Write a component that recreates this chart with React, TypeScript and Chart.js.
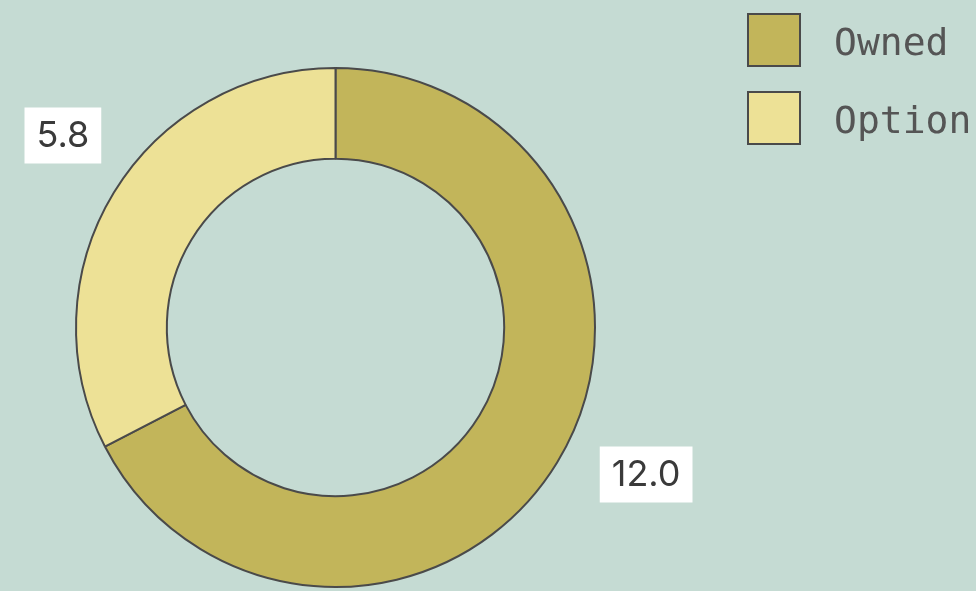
import React, { useEffect, useRef } from "react";
import { Chart, registerables } from "chart.js";

Chart.register(...registerables);

const categories = ["Owned", "Option"];
const legendLabels = ["Owned", "Option"];
const values = [12.0, 5.8];
const valueLabels = ["12.0", "5.8"];
const colors = ["#c2b55a", "#ede196"];

const BG = "#c5dbd3";
const BORDER = "#4a4a4a";

const labelPlugin = {
  id: "sliceLabels",
  afterDatasetsDraw(chart: any, _args: any, opts: any) {
    const ctx = chart.ctx;
    const meta = chart.getDatasetMeta(0);
    ctx.save();
    ctx.font = "36px Inter, 'Noto Sans', sans-serif";
    meta.data.forEach((arc: any, i: number) => {
      const { x, y, startAngle, endAngle, outerRadius } = arc.getProps(
        ["x", "y", "startAngle", "endAngle", "outerRadius"],
        true
      );
      const mid = (startAngle + endAngle) / 2;
      const ax = x + Math.cos(mid) * outerRadius;
      const ay = y + Math.sin(mid) * outerRadius;
      const n = opts.nudge[i];
      const cx = ax + n[0];
      const cy = ay + n[1];
      const text = valueLabels[i];
      const tw = ctx.measureText(text).width;
      const w = tw + 24;
      const h = 56;
      ctx.fillStyle = "#ffffff";
      ctx.fillRect(cx - w / 2, cy - h / 2, w, h);
      ctx.fillStyle = "#3a3a3a";
      ctx.textAlign = "center";
      ctx.textBaseline = "middle";
      ctx.fillText(text, cx, cy + 1);
    });
    ctx.restore();
  },
};

const legendPlugin = {
  id: "sideLegend",
  afterDraw(chart: any, _args: any, opts: any) {
    const ctx = chart.ctx;
    const left = chart.chartArea.right + opts.gap;
    ctx.save();
    ctx.font = "38px 'DejaVu Sans Mono', monospace";
    ctx.textBaseline = "alphabetic";
    ctx.textAlign = "left";
    legendLabels.forEach((label, i) => {
      const top = opts.top + i * opts.rowHeight;
      ctx.fillStyle = colors[i];
      ctx.fillRect(left + 1, top + 1, 52, 52);
      ctx.lineWidth = 2;
      ctx.strokeStyle = BORDER;
      ctx.strokeRect(left + 1, top + 1, 52, 52);
      ctx.fillStyle = "#555555";
      ctx.fillText(label, left + 87, top + 42);
    });
    ctx.restore();
  },
};

export default function App() {
  const ref = useRef<HTMLCanvasElement | null>(null);
  useEffect(() => {
    if (!ref.current) return;
    const chart = new Chart(ref.current, {
      type: "doughnut",
      data: {
        labels: categories,
        datasets: [
          {
            data: values,
            backgroundColor: colors,
            borderColor: BORDER,
            borderWidth: 2,
          },
        ],
      },
      options: {
        responsive: false,
        animation: false,
        cutout: "65%",
        layout: { padding: { top: 67, bottom: 3, left: 0, right: 305 } },
        plugins: {
          legend: { display: false },
          tooltip: { enabled: false },
          sliceLabels: { nudge: [[89, 12], [-51, -57]] },
          sideLegend: { gap: 76, top: 13, rowHeight: 78 },
        } as any,
      },
      plugins: [labelPlugin, legendPlugin],
    });
    return () => chart.destroy();
  }, []);
  return (
    <div
      style={{
        position: "fixed",
        left: 0,
        top: 0,
        width: 976,
        height: 591,
        background: BG,
        overflow: "hidden",
      }}
    >
      <canvas ref={ref} width={976} height={591} style={{ display: "block" }} />
    </div>
  );
}
